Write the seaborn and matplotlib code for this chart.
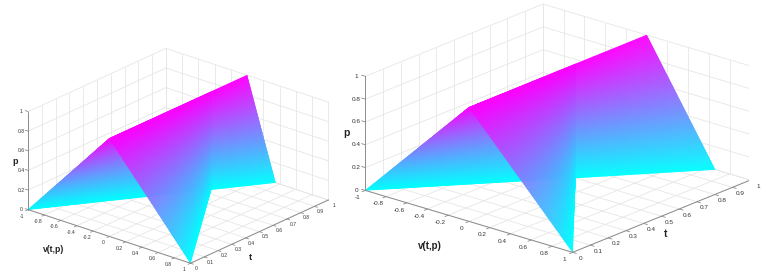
import matplotlib
matplotlib.use("Agg")
import matplotlib.pyplot as plt
import numpy as np
import seaborn as sns
from mpl_toolkits.mplot3d import proj3d

sns.set_theme(style="white")
plt.rcParams["font.family"] = ["Liberation Sans", "DejaVu Sans"]

W_PX, H_PX = 768, 279

# surface knots: v at p=0 along t, both sheets reach v=0 at p=1
t_knots_left = [0, 0.74, 1]
v_lower_left = [-1, 0, 0.35]
v_upper_left = [1, 0, 0.35]

t_knots_right = [0, 0.6, 1]
v_lower_right = [-1, 0, 0.66]
v_upper_right = [1, 0, 0.66]

p_range = [0, 1]

v_ticks = [-1, -0.8, -0.6, -0.4, -0.2, 0, 0.2, 0.4, 0.6, 0.8, 1]
v_tick_labels = ["-1", "-0.8", "-0.6", "-0.4", "-0.2", "0", "0.2", "0.4", "0.6", "0.8", "1"]
t_ticks = [0, 0.1, 0.2, 0.3, 0.4, 0.5, 0.6, 0.7, 0.8, 0.9, 1]
t_tick_labels = ["0", "0.1", "0.2", "0.3", "0.4", "0.5", "0.6", "0.7", "0.8", "0.9", "1"]
p_ticks = [0, 0.2, 0.4, 0.6, 0.8, 1]
p_tick_labels = ["0", "0.2", "0.4", "0.6", "0.8", "1"]

CMAP = sns.color_palette("cool", as_cmap=True)
GRID = "#e6e6e6"
AXIS = "#8c8c8c"
TEXT = "#333333"


def draw_sheet(ax, t_knots, v_p0, zorder):
    # strips in p only, so the flat-shaded polygons read as a smooth colour ramp
    tt, pp = np.meshgrid(t_knots, np.linspace(p_range[0], p_range[1], 200))
    vv = np.array(v_p0)[None, :] * (1 - pp)
    ax.plot_surface(vv, tt, pp, facecolors=CMAP(pp), rstride=1, cstride=1,
                    linewidth=0.3, antialiased=True, shade=False, zorder=zorder)


def tick_text(ax, x, y, z, s, fontsize):
    # 3D text reports unprojected extents, so place plain 2D text at the projected spot
    px, py, _ = proj3d.proj_transform(x, y, z, ax.get_proj())
    ax.text2D(px, py, s, fontsize=fontsize, color=TEXT, ha="center", va="center", zorder=6)


def draw_box(ax, fontsize):
    for v in v_ticks:
        ax.plot([v, v], [0, 1], [0, 0], color=GRID, lw=0.6, zorder=1)
        ax.plot([v, v], [1, 1], [0, 1], color=GRID, lw=0.6, zorder=1)
        ax.plot([v, v], [-0.018, 0], [0, 0], color=AXIS, lw=0.6, zorder=5)
    for t in t_ticks:
        ax.plot([-1, 1], [t, t], [0, 0], color=GRID, lw=0.6, zorder=1)
        ax.plot([-1, -1], [t, t], [0, 1], color=GRID, lw=0.6, zorder=1)
        ax.plot([1, 1.036], [t, t], [0, 0], color=AXIS, lw=0.6, zorder=5)
    for p in p_ticks:
        ax.plot([-1, -1], [0, 1], [p, p], color=GRID, lw=0.6, zorder=1)
        ax.plot([-1, 1], [1, 1], [p, p], color=GRID, lw=0.6, zorder=1)
        ax.plot([-1.036, -1], [0, 0], [p, p], color=AXIS, lw=0.6, zorder=5)

    ax.plot([-1, 1], [0, 0], [0, 0], color=AXIS, lw=0.7, zorder=5)
    ax.plot([1, 1], [0, 1], [0, 0], color=AXIS, lw=0.7, zorder=5)
    ax.plot([-1, -1], [0, 0], [0, 1], color=AXIS, lw=0.7, zorder=5)

    for v, lab in zip(v_ticks, v_tick_labels):
        tick_text(ax, v + 0.056, -0.077, 0, lab, fontsize)
    for t, lab in zip(t_ticks, t_tick_labels):
        tick_text(ax, 1.125, t - 0.03, 0, lab, fontsize)
    for p, lab in zip(p_ticks, p_tick_labels):
        tick_text(ax, -1.05, -0.021, p, lab, fontsize)


def make_panel(fig, rect_px, elev, azim, aspect, t_knots, v_lower, v_upper, fontsize):
    left, bottom, size = rect_px
    ax = fig.add_axes([left / W_PX, bottom / H_PX, size / W_PX, size / H_PX],
                      projection="3d", computed_zorder=False)
    ax.set_proj_type("ortho")
    ax.view_init(elev=elev, azim=azim)
    ax.set_box_aspect(aspect)
    ax.set_xlim(-1, 1)
    ax.set_ylim(0, 1)
    ax.set_zlim(0, 1)
    ax.set_axis_off()
    draw_box(ax, fontsize)
    draw_sheet(ax, t_knots, v_lower, 2)
    draw_sheet(ax, t_knots[:2], v_upper[:2], 3)
    return ax


def px_text(fig, x, y, s, size):
    fig.text(x / W_PX, 1 - y / H_PX, s, fontsize=size, fontweight="bold", color="#222222",
             ha="center", va="center")


fig = plt.figure(figsize=(W_PX / 100, H_PX / 100), dpi=100, facecolor="white")

make_panel(fig, (19, -36, 310), 22.9, -49.7, (1, 1, 0.5),
           t_knots_left, v_lower_left, v_upper_left, 3.6)
make_panel(fig, (356, -51, 393), 20.4, -49.4, (1, 1, 0.446),
           t_knots_right, v_lower_right, v_upper_right, 4.6)

px_text(fig, 54, 250, "v(t,p)", 6.2)
px_text(fig, 250, 257, "t", 6.5)
px_text(fig, 15, 161, "p", 6.5)
px_text(fig, 430, 246, "v(t,p)", 7)
px_text(fig, 666, 234, "t", 7.5)
px_text(fig, 346, 133, "p", 7.5)

fig.savefig("out.png", dpi=100)
